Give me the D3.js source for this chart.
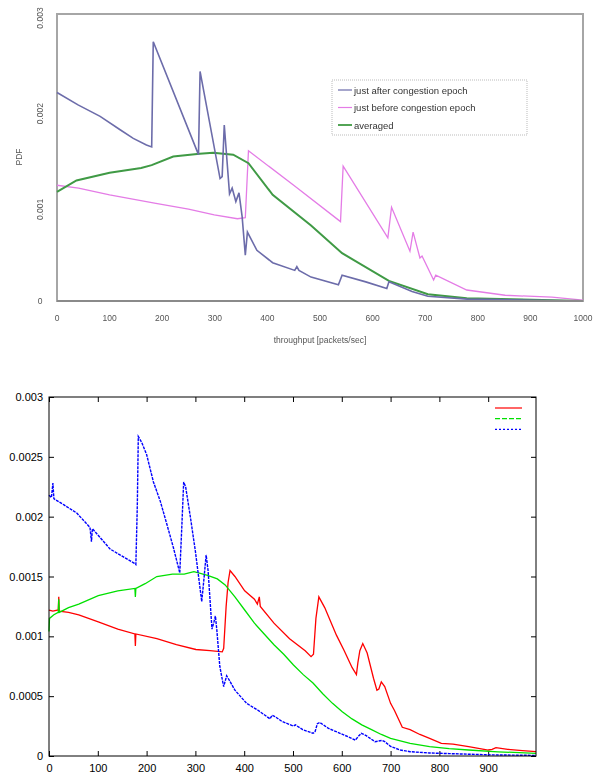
<!DOCTYPE html>
<html>
<head>
<meta charset="utf-8">
<script src="https://cdn.jsdelivr.net/npm/d3@7"></script>
<style>
    body { margin: 0; background: #fff; }
    svg { display: block; }
</style>
</head>
<body>
<div id="chart"></div>
<script>

// ---- top chart (spreadsheet style) ----
const topXTicks = [0, 100, 200, 300, 400, 500, 600, 700, 800, 900, 1000];
const topYTicks = [0, 0.001, 0.002, 0.003];
const topLegend = ["just after congestion epoch", "just before congestion epoch", "averaged"];

const topAfter = [[0,0.00218],[40,0.00205],[82,0.00193],[120,0.00179],[145,0.0017],[170,0.00163],[180,0.00161],
    [183,0.00271],[269,0.00153],[272,0.0024],[310,0.00128],[314,0.0013],[318,0.00184],[328,0.00112],[333,0.00118],
    [340,0.00104],[346,0.00113],[352,0.00088],[358,0.00048],[362,0.00072],[380,0.00053],[410,0.0004],[452,0.00032],
    [456,0.00036],[460,0.00032],[483,0.00025],[535,0.00017],[542,0.00027],[587,0.0002],[627,0.00013],[631,0.0002],
    [675,0.0001],[705,0.00005],[780,0.00002],[1000,0]];

const topBefore = [[0,0.00121],[41,0.00118],[100,0.00111],[188,0.00102],[250,0.00096],[299,0.0009],[343,0.00086],
    [358,0.00087],[364,0.00157],[450,0.00121],[539,0.00083],[544,0.00141],[629,0.00066],[636,0.00098],[671,0.00052],
    [677,0.00072],[690,0.00045],[694,0.00047],[716,0.00022],[720,0.00027],[779,0.000115],[852,0.00006],[941,0.00004],
    [1000,0.00001]];

const topAvg = [[0,0.00114],[37,0.00126],[100,0.00134],[160,0.00139],[180,0.00142],[221,0.00151],[271,0.00154],
    [297,0.00155],[335,0.00153],[364,0.00144],[410,0.00111],[483,0.00079],[542,0.0005],[631,0.00021],[705,0.00007],
    [779,0.00003],[1000,0]];

// ---- bottom chart (gnuplot style) ----
const botXTicks = [0, 100, 200, 300, 400, 500, 600, 700, 800, 900];
const botYTicks = [0, 0.0005, 0.001, 0.0015, 0.002, 0.0025, 0.003];

const botBefore = [[0,0.00122],[8,0.00121],[19,0.00122],[20,0.00133],[21,0.00121],[40,0.0012],[61,0.00118],[101,0.00112],
    [141,0.00106],[176,0.00102],[177,0.00092],[178,0.00102],[221,0.00098],[261,0.00093],[301,0.00089],[330,0.00088],
    [355,0.00087],[358,0.0009],[363,0.00125],[367,0.00145],[371,0.00155],[381,0.0015],[401,0.00138],[421,0.00131],
    [427,0.00127],[431,0.00133],[433,0.00125],[461,0.00111],[493,0.00098],[525,0.00088],[537,0.00083],[542,0.00085],
    [547,0.00115],[553,0.00133],[565,0.00124],[589,0.00101],[605,0.00088],[621,0.00074],[630,0.00068],[633,0.00078],
    [637,0.00088],[643,0.00094],[652,0.00086],[665,0.00065],[672,0.00055],[676,0.00056],[681,0.00062],[688,0.00058],
    [700,0.00044],[708,0.00038],[724,0.00024],[740,0.00022],[760,0.00018],[780,0.000147],[804,0.000106],[828,0.0001],
    [860,0.000078],[900,0.00005],[908,0.000055],[916,0.00007],[940,0.000056],[970,0.000045],[998,0.000036]];

const botAfter = [[0,0.00218],[5,0.00216],[8,0.00228],[10,0.00215],[30,0.0021],[57,0.00203],[84,0.00191],[87,0.00179],
    [89,0.0019],[125,0.00173],[150,0.00167],[175,0.00161],[178,0.0016],[181,0.0021],[183,0.00267],[190,0.00262],
    [200,0.00252],[214,0.00229],[228,0.00213],[242,0.00193],[255,0.00174],[268,0.00153],[272,0.0019],[276,0.00229],
    [280,0.00225],[290,0.00199],[300,0.00171],[313,0.00129],[318,0.0015],[322,0.00168],[326,0.00155],[334,0.00106],
    [338,0.00112],[341,0.00117],[344,0.00105],[350,0.00075],[356,0.00062],[358,0.00058],[364,0.00067],[370,0.00063],
    [381,0.00055],[405,0.00044],[429,0.00038],[453,0.00031],[457,0.00034],[463,0.00033],[477,0.00029],[501,0.00025],
    [505,0.00026],[520,0.00022],[541,0.00019],[545,0.0002],[550,0.00027],[555,0.00028],[573,0.00023],[605,0.000175],
    [628,0.000133],[633,0.00016],[640,0.00019],[650,0.00017],[668,0.00012],[683,0.00013],[688,0.00012],[700,0.00008],
    [720,0.00005],[740,0.000036],[780,0.000025],[820,0.00002],[900,0.00001],[998,0.000005]];

const botAvg = [[0,0.00104],[1,0.00115],[10,0.00118],[19,0.0012],[20,0.00131],[21,0.0012],[40,0.00124],[61,0.00127],
    [101,0.00134],[141,0.00138],[176,0.0014],[177,0.00133],[178,0.0014],[197,0.00144],[221,0.0015],[253,0.00152],
    [277,0.00152],[297,0.00154],[325,0.00151],[345,0.00148],[361,0.00143],[381,0.00133],[401,0.00122],[421,0.00111],
    [441,0.00102],[461,0.00093],[481,0.00085],[501,0.00076],[521,0.00068],[541,0.00061],[561,0.00052],[581,0.00044],
    [601,0.00037],[621,0.00031],[641,0.00026],[661,0.00022],[681,0.00018],[700,0.000147],[740,0.000106],[780,0.000078],
    [820,0.000062],[860,0.00005],[920,0.000035],[998,0.000022]];


const svg = d3.select("#chart")
    .append("svg")
    .attr("width", 613)
    .attr("height", 778);

svg.append("rect")
    .attr("width", 613)
    .attr("height", 778)
    .attr("fill", "#fff");

// slight blur, the top picture is a scanned bitmap
svg.append("defs")
    .append("filter")
    .attr("id", "soft")
    .append("feGaussianBlur")
    .attr("stdDeviation", 0.6);


/* ================= top chart ================= */
const xTop = d3.scaleLinear().domain([0, 1000]).range([57, 583]);
const yTop = d3.scaleLinear().domain([0, 0.003]).range([301, 14]);

const gTop = svg.append("g")
    .attr("filter", "url(#soft)")
    .style("font-family", "'Liberation Sans', Arial, sans-serif");

gTop.append("rect")
    .attr("x", xTop(0))
    .attr("y", yTop(0.003))
    .attr("width", xTop(1000) - xTop(0))
    .attr("height", yTop(0) - yTop(0.003))
    .attr("fill", "#fff")
    .attr("stroke", "#a6a6a6")
    .attr("stroke-width", 2);

const lineTop = d3.line()
    .x(function (d) { return xTop(d[0]); })
    .y(function (d) { return yTop(d[1]); });

gTop.append("path")
    .attr("d", lineTop(topBefore))
    .attr("fill", "none")
    .attr("stroke", "#e47ce6")
    .attr("stroke-width", 1.3);

gTop.append("path")
    .attr("d", lineTop(topAvg))
    .attr("fill", "none")
    .attr("stroke", "#3f9a45")
    .attr("stroke-width", 2);

gTop.append("path")
    .attr("d", lineTop(topAfter))
    .attr("fill", "none")
    .attr("stroke", "#6c6caa")
    .attr("stroke-width", 1.6);

// bottom axis line a bit darker
gTop.append("line")
    .attr("x1", xTop(0))
    .attr("x2", xTop(1000))
    .attr("y1", yTop(0))
    .attr("y2", yTop(0))
    .attr("stroke", "#8a8a8a")
    .attr("stroke-width", 2);

gTop.selectAll(".xt")
    .data(topXTicks)
    .enter()
    .append("text")
    .attr("class", "xt")
    .attr("x", function (d) { return xTop(d); })
    .attr("y", 321)
    .attr("text-anchor", "middle")
    .attr("fill", "#555")
    .style("font-size", "8.5px")
    .text(function (d) { return d; });

gTop.selectAll(".yt")
    .data(topYTicks)
    .enter()
    .append("text")
    .attr("class", "yt")
    .attr("transform", function (d) {
        return d === 0 ? "translate(40," + (yTop(d) + 3) + ")"
            : "translate(43," + (yTop(d) + 4) + ") rotate(-90)";
    })
    .attr("text-anchor", "middle")
    .attr("fill", "#555")
    .style("font-size", "8.5px")
    .text(function (d) { return d === 0 ? "0" : d3.format(".3f")(d); });

gTop.append("text")
    .attr("transform", "translate(22,157) rotate(-90)")
    .attr("text-anchor", "middle")
    .attr("fill", "#555")
    .style("font-size", "8.5px")
    .text("PDF");

gTop.append("text")
    .attr("x", 320)
    .attr("y", 343)
    .attr("text-anchor", "middle")
    .attr("fill", "#555")
    .style("font-size", "8.5px")
    .text("throughput [packets/sec]");

/* legend */
const legTop = gTop.append("g").attr("transform", "translate(332,80)");

legTop.append("rect")
    .attr("width", 195)
    .attr("height", 55)
    .attr("fill", "#fff")
    .attr("stroke", "#bbb")
    .attr("stroke-dasharray", "1,1");

const legColors = ["#6c6caa", "#e47ce6", "#3f9a45"];

legTop.selectAll(".ll")
    .data(topLegend)
    .enter()
    .append("line")
    .attr("class", "ll")
    .attr("x1", 6)
    .attr("x2", 20)
    .attr("y1", function (d, i) { return 10 + i * 17.5; })
    .attr("y2", function (d, i) { return 10 + i * 17.5; })
    .attr("stroke", function (d, i) { return legColors[i]; })
    .attr("stroke-width", function (d, i) { return i === 2 ? 1.8 : 1.2; });

legTop.selectAll(".lt")
    .data(topLegend)
    .enter()
    .append("text")
    .attr("class", "lt")
    .attr("x", 22)
    .attr("y", function (d, i) { return 13.5 + i * 17.5; })
    .attr("fill", "#333")
    .style("font-size", "9.5px")
    .text(function (d) { return d; });


/* ================= bottom chart ================= */
const xBot = d3.scaleLinear().domain([0, 998]).range([49, 536]);
const yBot = d3.scaleLinear().domain([0, 0.003]).range([756, 397]);

const gBot = svg.append("g")
    .style("font-family", "'Liberation Sans', Arial, sans-serif");

const fmtY = function (d) { return d === 0 ? "0" : String(+d.toFixed(4)); };

gBot.append("g")
    .attr("class", "axis")
    .attr("transform", "translate(0,756)")
    .call(d3.axisBottom(xBot).tickValues(botXTicks).tickSize(-5).tickPadding(8));

gBot.append("g")
    .attr("class", "axis")
    .attr("transform", "translate(0,397)")
    .call(d3.axisTop(xBot).tickValues(botXTicks).tickSize(-5).tickFormat(""));

gBot.append("g")
    .attr("class", "axis")
    .attr("transform", "translate(49,0)")
    .call(d3.axisLeft(yBot).tickValues(botYTicks).tickSize(-5).tickPadding(6).tickFormat(fmtY));

gBot.append("g")
    .attr("class", "axis")
    .attr("transform", "translate(536,0)")
    .call(d3.axisRight(yBot).tickValues(botYTicks).tickSize(-5).tickFormat(""));

gBot.selectAll(".axis .domain").remove();
gBot.selectAll(".axis line").attr("stroke", "#000");
gBot.selectAll(".axis text")
    .attr("fill", "#000")
    .style("font-size", "11px")
    .style("font-family", "'Liberation Sans', Arial, sans-serif");

const lineBot = d3.line()
    .x(function (d) { return xBot(d[0]); })
    .y(function (d) { return yBot(d[1]); });

gBot.append("path")
    .attr("d", lineBot(botBefore))
    .attr("fill", "none")
    .attr("stroke", "#ff0000")
    .attr("stroke-width", 1.3);

gBot.append("path")
    .attr("d", lineBot(botAvg))
    .attr("fill", "none")
    .attr("stroke", "#00e000")
    .attr("stroke-width", 1.3);

gBot.append("path")
    .attr("d", lineBot(botAfter))
    .attr("fill", "none")
    .attr("stroke", "#0000ff")
    .attr("stroke-width", 1.4)
    .attr("stroke-dasharray", "3,1");

// frame
gBot.append("rect")
    .attr("x", 49)
    .attr("y", 397)
    .attr("width", 536 - 49)
    .attr("height", 756 - 397)
    .attr("fill", "none")
    .attr("stroke", "#000")
    .attr("stroke-width", 1);

/* legend, samples only */
const legBot = [
    {color: "#ff0000", dash: null},
    {color: "#00e000", dash: "5,2"},
    {color: "#0000ff", dash: "2,2"}
];

gBot.selectAll(".lb")
    .data(legBot)
    .enter()
    .append("line")
    .attr("class", "lb")
    .attr("x1", 495)
    .attr("x2", 522)
    .attr("y1", function (d, i) { return 408 + i * 10.7; })
    .attr("y2", function (d, i) { return 408 + i * 10.7; })
    .attr("stroke", function (d) { return d.color; })
    .attr("stroke-width", 1.2)
    .attr("stroke-dasharray", function (d) { return d.dash; });

</script>
</body>
</html>
